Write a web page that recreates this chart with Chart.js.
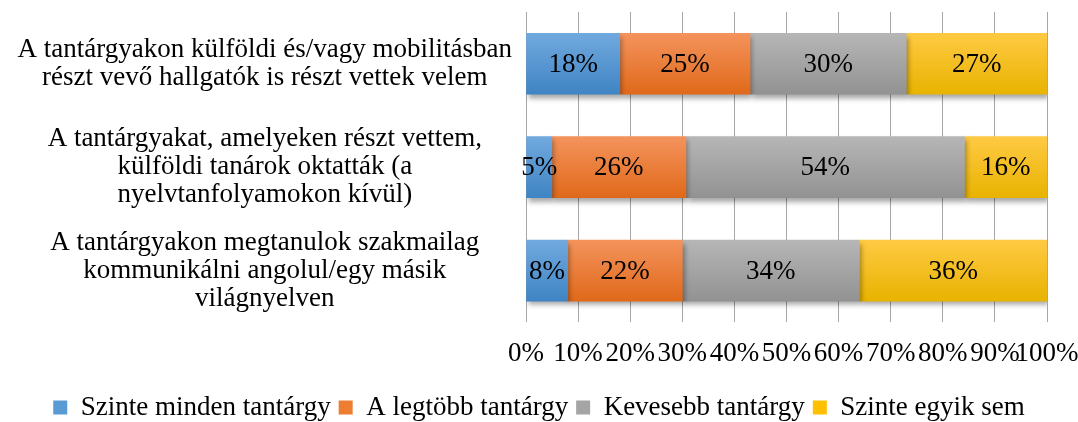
<!DOCTYPE html>
<html>
<head>
<meta charset="utf-8">
<script src="https://cdn.jsdelivr.net/npm/chart.js@4"></script>
<style>
  html, body { margin: 0; padding: 0; background: #fff; }
  #wrap { width: 1078px; height: 422px; position: relative; }
</style>
</head>
<body>
<div id="wrap"><canvas id="chart"></canvas></div>
<script>
// statements (y axis)
const categories = [
    ['A tantárgyakon külföldi és/vagy mobilitásban', 'részt vevő hallgatók is részt vettek velem'],
    ['A tantárgyakat, amelyeken részt vettem,', 'külföldi tanárok oktatták (a', 'nyelvtanfolyamokon kívül)'],
    ['A tantárgyakon megtanulok szakmailag', 'kommunikálni angolul/egy másik', 'világnyelven']
];
const seriesNames = ['Szinte minden tantárgy', 'A legtöbb tantárgy', 'Kevesebb tantárgy', 'Szinte egyik sem'];

// percentages as printed on the bars
const szinteMinden = [18, 5, 8];
const legtobb = [25, 26, 22];
const kevesebb = [30, 54, 34];
const egyikSem = [27, 16, 36];

const xTicks = ['0%', '10%', '20%', '30%', '40%', '50%', '60%', '70%', '80%', '90%', '100%'];

const allSeries = [szinteMinden, legtobb, kevesebb, egyikSem];
// 100% stacked: each row scaled by its own total (row 2 adds up to 101)
const rowTotals = categories.map((c, i) => allSeries.reduce((s, arr) => s + arr[i], 0));

const FONT = "'Liberation Serif', 'Times New Roman', serif";
const FS = 27;
const BAR_H = 61;

const palette = [
    { solid: '#5B9BD5', top: '#71A9DE', bot: '#3F84C4' },
    { solid: '#ED7D31', top: '#F4935C', bot: '#E0691A' },
    { solid: '#A5A5A5', top: '#B6B6B6', bot: '#929292' },
    { solid: '#FFC000', top: '#FFCA43', bot: '#E8B300' }
];

function barFill(idx) {
    return function (ctx) {
        const chart = ctx.chart;
        if (!chart.chartArea || ctx.type !== 'data') return palette[idx].solid;
        const cy = chart.scales.y.getPixelForValue(ctx.dataIndex);
        const g = chart.ctx.createLinearGradient(0, cy - BAR_H / 2, 0, cy + BAR_H / 2);
        g.addColorStop(0, palette[idx].top);
        g.addColorStop(1, palette[idx].bot);
        return g;
    };
}

const shadowPlugin = {
    id: 'barShadow',
    beforeDatasetDraw(chart) {
        const c = chart.ctx;
        c.save();
        c.shadowColor = 'rgba(0,0,0,0.35)';
        c.shadowBlur = 5;
        c.shadowOffsetX = 2;
        c.shadowOffsetY = 4;
    },
    afterDatasetDraw(chart) {
        chart.ctx.restore();
    }
};

const valueLabels = {
    id: 'valueLabels',
    afterDatasetsDraw(chart) {
        const c = chart.ctx;
        c.save();
        c.font = FS + 'px ' + FONT;
        c.fillStyle = '#000';
        c.textAlign = 'center';
        c.textBaseline = 'middle';
        chart.data.datasets.forEach((ds, di) => {
            chart.getDatasetMeta(di).data.forEach((bar, i) => {
                const p = bar.getCenterPoint();
                c.fillText(allSeries[di][i] + '%', p.x, p.y + 1);
            });
        });
        c.restore();
    }
};

new Chart(document.getElementById('chart'), {
    type: 'bar',
    data: {
        labels: categories,
        datasets: allSeries.map((arr, di) => ({
            label: seriesNames[di],
            data: arr.map((v, i) => v / rowTotals[i] * 100),
            backgroundColor: barFill(di),
            borderWidth: 0,
            barThickness: BAR_H
        }))
    },
    options: {
        indexAxis: 'y',
        responsive: true,
        maintainAspectRatio: false,
        animation: false,
        layout: { padding: { top: 12, left: 0, right: 0, bottom: -9 } },
        plugins: {
            legend: {
                position: 'bottom',
                labels: {
                    color: '#000',
                    font: { family: FONT, size: FS },
                    boxWidth: 14,
                    boxHeight: 14,
                    padding: 8,
                    generateLabels(chart) {
                        return chart.data.datasets.map((ds, i) => ({
                            text: ds.label,
                            fillStyle: palette[i].solid,
                            strokeStyle: palette[i].solid,
                            lineWidth: 0,
                            datasetIndex: i
                        }));
                    }
                }
            },
            tooltip: { enabled: false }
        },
        scales: {
            x: {
                stacked: true,
                min: 0,
                max: 100,
                ticks: {
                    stepSize: 10,
                    color: '#000',
                    font: { family: FONT, size: FS, lineHeight: 1.1 },
                    padding: 17,
                    maxRotation: 0,
                    autoSkip: false,
                    callback: (v, i) => xTicks[i]
                },
                grid: { color: '#A6A6A6', lineWidth: 1, drawTicks: false },
                border: { display: false },
                afterFit(scale) {
                    scale.paddingRight = 31;
                }
            },
            y: {
                stacked: true,
                ticks: {
                    color: '#000',
                    font: { family: FONT, size: FS, lineHeight: 1.04 },
                    crossAlign: 'center',
                    autoSkip: false,
                    padding: 14
                },
                grid: { display: false, drawTicks: false },
                border: { display: false },
                afterFit(scale) {
                    scale.width = 526;
                    scale.paddingTop = 0;
                    scale.paddingBottom = 0;
                }
            }
        }
    },
    plugins: [shadowPlugin, valueLabels]
});
</script>
</body>
</html>
